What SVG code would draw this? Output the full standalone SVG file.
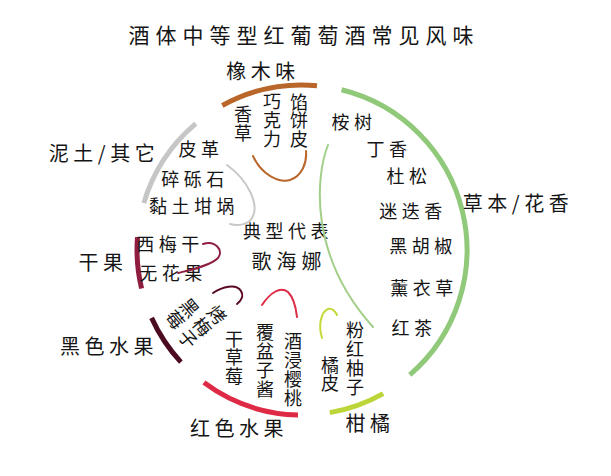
<svg xmlns="http://www.w3.org/2000/svg" width="611" height="476" viewBox="0 0 611 476">
<style>
.t{font-family:"Noto Sans CJK SC","Noto Sans",sans-serif;fill:#151515;dominant-baseline:central;text-anchor:middle}
.s{font-size:18px;letter-spacing:4.5px}
.v{font-size:18px;writing-mode:vertical-rl;letter-spacing:0.8px}
.c{font-size:20px;letter-spacing:4.5px}
.arc{fill:none;stroke-width:5}
.thin{fill:none;stroke-width:2;stroke-linecap:round}
</style>
<rect width="611" height="476" fill="#ffffff"/>
<text class="t" x="304" y="34" style="font-size:21px;letter-spacing:6px">酒体中等型红葡萄酒常见风味</text>

<g id="oak">
<path class="arc" stroke="#b9662b" d="M222.3,105.5 A165,165 0 0 1 317.0,85.7"/>
<text class="t c" x="263" y="70">橡木味</text>
<text class="t v" x="243" y="124">香草</text>
<text class="t v" x="272" y="120.5">巧克力</text>
<text class="t v" x="299" y="121">馅饼皮</text>
</g>

<g id="herbal">
<path class="arc" stroke="#91c97a" d="M341.6,89.8 A165,165 0 0 1 409.8,374.9"/>
<text class="t c" x="518" y="202">草本/花香</text>
<text class="t s" x="354" y="121">桉树</text>
<text class="t s" x="389" y="148">丁香</text>
<text class="t s" x="409" y="175">杜松</text>
<text class="t s" x="413" y="210">迷迭香</text>
<text class="t s" x="423" y="245">黑胡椒</text>
<text class="t s" x="424" y="287">薰衣草</text>
<text class="t s" x="414" y="327">红茶</text>
</g>

<g id="citrus">
<path class="arc" stroke="#bcd63a" stroke-width="6" d="M383.2,393.6 A165,165 0 0 1 329.8,412.6"/>
<text class="t c" x="370" y="422">柑橘</text>
<text class="t v" x="330" y="374.5">橘皮</text>
<text class="t v" x="355" y="359">粉红柚子</text>
</g>

<g id="red-fruit">
<path class="arc" stroke="#df2a45" d="M298.0,415.0 A165,165 0 0 1 203.9,382.6"/>
<text class="t c" x="239" y="427">红色水果</text>
<text class="t v" x="234" y="358">干草莓</text>
<text class="t v" x="265" y="361">覆盆子酱</text>
<text class="t v" x="293" y="370">酒浸樱桃</text>
</g>

<g id="black-fruit">
<path class="arc" stroke="#4d0b22" d="M180.9,362.1 A165,165 0 0 1 151.6,317.9"/>
<text class="t c" x="109" y="345">黑色水果</text>
<text class="t v" transform="translate(182,314) rotate(50)" x="0" y="0">黑莓</text>
<text class="t v" transform="translate(202,327) rotate(50)" x="0" y="0">烤梅子</text>
</g>

<g id="dried-fruit">
<path class="arc" stroke="#8f1d3f" d="M141.6,288.5 A165,165 0 0 1 137.5,237.3"/>
<text class="t c" x="103" y="261">干果</text>
<text class="t s" x="170" y="243">西梅干</text>
<text class="t s" x="173" y="272">无花果</text>
</g>

<g id="earth">
<path class="arc" stroke="#c6c6c6" stroke-width="5.5" d="M143.8,203.1 A165,165 0 0 1 195.8,123.7"/>
<text class="t c" x="104" y="152">泥土/其它</text>
<text class="t s" x="201" y="148">皮革</text>
<text class="t s" x="195" y="178">碎砾石</text>
<text class="t s" x="194" y="205">黏土坩埚</text>
</g>

<g id="center">
<text class="t s" x="288" y="230">典型代表</text>
<text class="t" x="289" y="260" style="font-size:20px;letter-spacing:5px">歌海娜</text>
</g>

<g id="connectors">
<path class="thin" stroke="#b9662b" d="M253,156 C262,176 280,183 290,180 C302,176 307,163 306,151"/>
<path class="thin" stroke="#a3cf8a" d="M328,145 C316,175 308,255 373,327"/>
<path class="thin" stroke="#c8c8c8" d="M227,165 C248,180 260,205 252,218 C248,225 238,226 230,224"/>
<path class="thin" stroke="#8f1d3f" d="M203,244 C215,240 224,250 218,258 C210,266 190,270 178,273"/>
<path class="thin" stroke="#5a0a28" stroke-width="2.5" d="M213,293 C222,287 236,283 241,291 C244,296 241,301 237,304"/>
<path class="thin" stroke="#df2a45" d="M262,305 C270,293 280,286 288,292 C294,298 296,308 297,317"/>
<path class="thin" stroke="#c5d93a" d="M322,338 C318,325 321,312 328,309 C332,308 335,311 337,315"/>
</g>
</svg>
